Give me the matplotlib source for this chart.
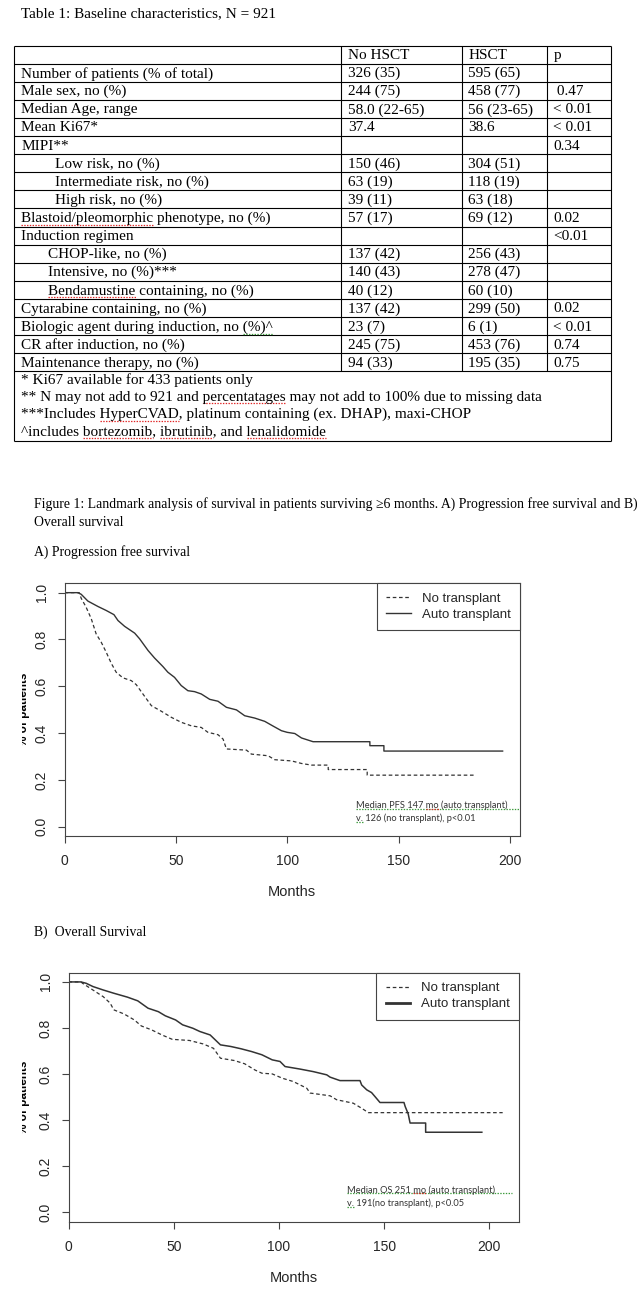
import matplotlib
matplotlib.use('Agg')
import matplotlib.pyplot as plt
from matplotlib.font_manager import FontProperties
from matplotlib.transforms import Bbox, TransformedBbox

W, H = 643, 1302

# ---- table data ----
col_heads = ['No HSCT', 'HSCT', 'p']
row_labels = ['Number of patients (% of total)', 'Male sex, no (%)', 'Median Age, range',
              'Mean Ki67*', 'MIPI**', 'Low risk, no (%)', 'Intermediate risk, no (%)',
              'High risk, no (%)', 'Blastoid/pleomorphic phenotype, no (%)', 'Induction regimen',
              'CHOP-like, no (%)', 'Intensive, no (%)***', 'Bendamustine containing, no (%)',
              'Cytarabine containing, no (%)', 'Biologic agent during induction, no (%)^',
              'CR after induction, no (%)', 'Maintenance therapy, no (%)']
no_hsct = ['326 (35)', '244 (75)', '58.0 (22-65)', '37.4', '', '150 (46)', '63 (19)', '39 (11)',
           '57 (17)', '', '137 (42)', '140 (43)', '40 (12)', '137 (42)', '23 (7)', '245 (75)', '94 (33)']
hsct = ['595 (65)', '458 (77)', '56 (23-65)', '38.6', '', '304 (51)', '118 (19)', '63 (18)',
        '69 (12)', '', '256 (43)', '278 (47)', '60 (10)', '299 (50)', '6 (1)', '453 (76)', '195 (35)']
p_values = ['', ' 0.47', '< 0.01', '< 0.01', '0.34', '', '', '', '0.02', '<0.01', '', '', '',
            '0.02', '< 0.01', '0.74', '0.75']
indent = [0, 0, 0, 0, 0, 2, 2, 2, 0, 0, 1, 1, 1, 0, 0, 0, 0]
footnotes = ['* Ki67 available for 433 patients only',
             '** N may not add to 921 and percentatages may not add to 100% due to missing data',
             '***Includes HyperCVAD, platinum containing (ex. DHAP), maxi-CHOP',
             '^includes bortezomib, ibrutinib, and lenalidomide']

# ---- survival curves (months, survival) ----
pfs_auto_t = [0, 6, 7.5, 10.5, 15, 18.7, 22.2, 24, 27, 31.5, 33.7, 37.5, 40.4, 44.2, 46.4, 49.4,
              52.4, 55.4, 58.4, 61.4, 65.2, 68.9, 72.7, 77.2, 80.9, 85.4, 89.9, 93.6, 97.4, 100,
              103.4, 106.4, 111.6, 137.1, 137.1, 143.4, 143.4, 196.7]
pfs_auto_s = [1.0, 1.0, 0.993, 0.964, 0.941, 0.924, 0.906, 0.881, 0.856, 0.827, 0.803, 0.753,
              0.721, 0.684, 0.66, 0.638, 0.603, 0.581, 0.577, 0.567, 0.544, 0.536, 0.51, 0.499,
              0.474, 0.464, 0.45, 0.43, 0.41, 0.403, 0.398, 0.379, 0.363, 0.363, 0.346, 0.346,
              0.323, 0.323]
pfs_no_t = [0, 6.6, 7.5, 9.7, 12, 14.2, 16.5, 18.7, 21, 23.2, 26.2, 30, 32.2, 35.2, 39, 43.5, 48,
            52.4, 56.9, 61.4, 64.4, 68.9, 71.2, 72.7, 81.7, 83.9, 91.4, 94.4, 101.9, 106.4, 110.9,
            118.4, 118.4, 135.9, 135.9, 184.3]
pfs_no_s = [1.0, 1.0, 0.976, 0.938, 0.889, 0.824, 0.788, 0.746, 0.698, 0.66, 0.636, 0.624, 0.607,
            0.567, 0.517, 0.493, 0.467, 0.446, 0.431, 0.424, 0.403, 0.393, 0.374, 0.332, 0.327,
            0.31, 0.303, 0.286, 0.281, 0.27, 0.263, 0.263, 0.244, 0.244, 0.22, 0.22]
os_auto_t = [0, 5.9, 8.4, 11.6, 16.5, 21.5, 28, 32.9, 37.8, 42.7, 46, 50.9, 54.2, 59.1, 62.4, 67.3,
             72.2, 77.1, 82, 87, 91.9, 96.8, 100.5, 102.9, 110, 116.3, 122.7, 124.3, 129, 138.5,
             139.3, 141.7, 144, 145.6, 148, 159.4, 160, 161.4, 162.3, 169.7, 169.7, 196.4]
os_auto_s = [1.0, 1.0, 0.994, 0.98, 0.965, 0.951, 0.934, 0.918, 0.886, 0.871, 0.853, 0.835, 0.814,
             0.799, 0.785, 0.77, 0.727, 0.72, 0.71, 0.698, 0.684, 0.662, 0.655, 0.633, 0.622, 0.611,
             0.597, 0.587, 0.572, 0.572, 0.553, 0.532, 0.52, 0.503, 0.477, 0.477, 0.459, 0.428,
             0.388, 0.388, 0.348, 0.348]
os_no_t = [0, 5.9, 6.7, 11.6, 16.5, 19.8, 21.5, 26.4, 31.3, 34.6, 39.5, 44.4, 49.3, 57.5, 64, 68.9,
           72.2, 78.8, 83.7, 88.6, 91.9, 96.8, 101.7, 106.8, 113.2, 114.8, 124.3, 127.4, 135.3,
           139.3, 142.5, 206.3]
os_no_s = [1.0, 1.0, 0.994, 0.965, 0.936, 0.908, 0.879, 0.861, 0.835, 0.809, 0.792, 0.77, 0.751,
           0.746, 0.731, 0.712, 0.669, 0.659, 0.645, 0.618, 0.604, 0.601, 0.582, 0.568, 0.539,
           0.518, 0.506, 0.489, 0.474, 0.452, 0.433, 0.433]

plt.rcParams['font.family'] = ['Liberation Sans', 'DejaVu Sans']
plt.rcParams['lines.scale_dashes'] = False
serif = ['Liberation Serif', 'DejaVu Serif']
note_font = ['Lato', 'DejaVu Sans']
ink = '#262626'

fig = plt.figure(figsize=(W / 100, H / 100), dpi=100)
doc = fig.add_axes([0, 0, 1, 1])
doc.set_xlim(0, W)
doc.set_ylim(H, 0)
doc.axis('off')
renderer = fig.canvas.get_renderer()


def text_w(s, family, size):
    prop = FontProperties(family=family, size=size)
    return renderer.get_text_width_height_descent(s, prop, ismath=False)[0]


def squiggle(x0, y, before, word, family, size, color='#e02424', x_end=None):
    xb = x0 + text_w(before + word, family, size)
    xa = xb - text_w(word, family, size)
    if x_end is not None:
        xb = x_end
    doc.plot([xa, xb], [y, y], color=color, lw=0.9, ls=(0, (1.0, 1.0)))


# ---- table ----
fs = 11
doc.text(21.3, 13.3, 'Table 1: Baseline characteristics, N = 921', family=serif, fontsize=fs,
         va='center')
top, rh = 45.5, 18.1
n_rows = len(row_labels) + 1
bottom_rows = top + n_rows * rh
foot_bottom = 440.7
x_left, x_right = 13.5, 611
col_lines = [341.4, 462.3, 546.7]
col_text = [348.4, 468.4, 553.3]
indent_x = [21.3, 48.4, 55.3]

doc.hlines([top + i * rh for i in range(n_rows + 1)] + [foot_bottom], x_left, x_right,
           color='black', lw=0.8)
doc.vlines([x_left, x_right], top, foot_bottom, color='black', lw=0.8)
doc.vlines(col_lines, top, bottom_rows, color='black', lw=0.8)

for j, head in enumerate(col_heads):
    doc.text(col_text[j], top + 0.5 * rh + 1, head, family=serif, fontsize=fs, va='center')
for i, lab in enumerate(row_labels):
    y = top + (i + 1.5) * rh + 1
    doc.text(indent_x[indent[i]], y, lab, family=serif, fontsize=fs, va='center')
    for j, val in enumerate([no_hsct[i], hsct[i], p_values[i]]):
        if val:
            doc.text(col_text[j], y, val, family=serif, fontsize=fs, va='center')

foot_y = [380.3, 397.3, 414.7, 431.7]
for y, note in zip(foot_y, footnotes):
    doc.text(21.3, y, note, family=serif, fontsize=fs, va='center')

# spell-check marks
y_bl = top + (8 + 1.5) * rh + 1
squiggle(21.3, y_bl + 6.5, '', 'Blastoid/pleomorphic', serif, fs)
y_be = top + (12 + 1.5) * rh + 1
squiggle(48.4, y_be + 6.5, '', 'Bendamustine', serif, fs)
y_bi = top + (14 + 1.5) * rh + 1
squiggle(21.3, y_bi + 6.5, 'Biologic agent during induction, no ', '(%)^', serif, fs, color='#3a9a3a')
squiggle(21.3, foot_y[1] + 6, '** N may not add to 921 and ', 'percentatages', serif, fs)
squiggle(21.3, foot_y[2] + 6, '***Includes ', 'HyperCVAD', serif, fs)
squiggle(21.3, foot_y[3] + 6, '^includes ', 'bortezomib', serif, fs)
squiggle(21.3, foot_y[3] + 6, '^includes bortezomib, ', 'ibrutinib', serif, fs)
squiggle(21.3, foot_y[3] + 6, '^includes bortezomib, ibrutinib, and ', 'lenalidomide', serif, fs)

# ---- figure captions ----
cap1 = 'Figure 1: Landmark analysis of survival in patients surviving \u22656 months. A) Progression free survival and B)'
cap_fs = 10 * 601 / text_w(cap1, serif, 10)
doc.text(34.3, 504, cap1, family=serif, fontsize=cap_fs, va='center')
doc.text(34.3, 522.7, 'Overall survival', family=serif, fontsize=cap_fs, va='center')
doc.text(34.3, 552.3, 'A) Progression free survival', family=serif, fontsize=cap_fs, va='center')
doc.text(34.0, 932.3, 'B)  Overall Survival', family=serif, fontsize=cap_fs, va='center')


def km_axes(left, top_px, right, bottom_px, xmax):
    ax = fig.add_axes([left / W, 1 - bottom_px / H, (right - left) / W, (bottom_px - top_px) / H])
    ax.set_facecolor('none')
    ax.set_xlim(0, xmax)
    ax.set_ylim(-0.04, 1.04)
    ax.set_xticks([0, 50, 100, 150, 200])
    ax.set_yticks([0, 0.2, 0.4, 0.6, 0.8, 1.0])
    ax.set_yticklabels(['0.0', '0.2', '0.4', '0.6', '0.8', '1.0'])
    ax.tick_params(length=5, width=0.8, color='#444444', labelsize=10, labelcolor=ink)
    ax.tick_params(axis='y', labelrotation=90, pad=6.5)
    ax.tick_params(axis='x', pad=8)
    for lbl in ax.get_yticklabels():
        lbl.set_va('center')
    for sp in ax.spines.values():
        sp.set_color('#444444')
        sp.set_linewidth(0.8)
    ax.set_xlabel('Months', fontsize=10.5, color=ink)
    ax.xaxis.label.set_va('center')
    return ax


def y_label(yc):
    t = doc.text(27, yc, '% of patients', fontsize=8.5, fontweight='bold', rotation=90,
                 rotation_mode='anchor', ha='center', va='baseline', color='black')
    t.set_clip_box(TransformedBbox(Bbox.from_extents(22, H, W, 0), doc.transData))
    t.set_clip_on(True)


def legend(ax):
    leg = ax.legend(loc='upper right', bbox_to_anchor=(1, 1), borderaxespad=0, fontsize=9.5,
                    handlelength=1.85, handletextpad=0.85, borderpad=0.7, labelspacing=0.3,
                    fancybox=False, framealpha=1, edgecolor='#444444')
    leg.get_frame().set_linewidth(0.8)
    for t in leg.get_texts():
        t.set_color(ink)
    return leg


dash = (0, (2.6, 1.9))

# ---- A) PFS ----
ax1 = km_axes(64.5, 583.3, 520, 836, 204.5)
ax1.xaxis.set_label_coords(0.5, -0.22)
ax1.plot(pfs_no_t, pfs_no_s, color='#333333', lw=0.9, ls=dash, label='No transplant')
ax1.plot(pfs_auto_t, pfs_auto_s, color='#333333', lw=1.0, label='Auto transplant')
legend(ax1)
y_label(709.7)

n1 = 'Median PFS 147 mo (auto transplant)'
nfs = 10 * 152 / text_w(n1, note_font, 10)
doc.text(356, 805.3, n1, family=note_font, fontsize=nfs, va='center', color='#333333')
doc.text(356, 818.3, 'v. 126 (no transplant), p<0.01', family=note_font, fontsize=nfs,
         va='center', color='#333333')
squiggle(356, 808.7, '', n1, note_font, nfs, color='#3a9a3a', x_end=520)
squiggle(356, 808.7, 'Median PFS 147 ', 'mo', note_font, nfs)
squiggle(356, 821.7, '', 'v.', note_font, nfs, color='#3a9a3a')

# ---- B) OS ----
ax2 = km_axes(68.5, 972.7, 519.3, 1221.7, 214.2)
ax2.xaxis.set_label_coords(0.5, -0.227)
ax2.plot(os_no_t, os_no_s, color='#333333', lw=0.9, ls=dash, label='No transplant')
ax2.plot(os_auto_t, os_auto_s, color='#333333', lw=1.1, label='Auto transplant')
leg2 = legend(ax2)
leg2.get_lines()[1].set_linewidth(2.0)
y_label(1097.2)

n2 = 'Median OS 251 mo (auto transplant)'
doc.text(346.7, 1190, n2, family=note_font, fontsize=nfs, va='center', color='#333333')
doc.text(346.7, 1203.3, 'v. 191(no transplant), p<0.05', family=note_font, fontsize=nfs,
         va='center', color='#333333')
squiggle(346.7, 1193.4, '', n2, note_font, nfs, color='#3a9a3a', x_end=511.7)
squiggle(346.7, 1193.4, 'Median OS 251 ', 'mo', note_font, nfs)
squiggle(346.7, 1206.7, '', 'v.', note_font, nfs, color='#3a9a3a')

fig.savefig('out.png', dpi=100, facecolor='white')
